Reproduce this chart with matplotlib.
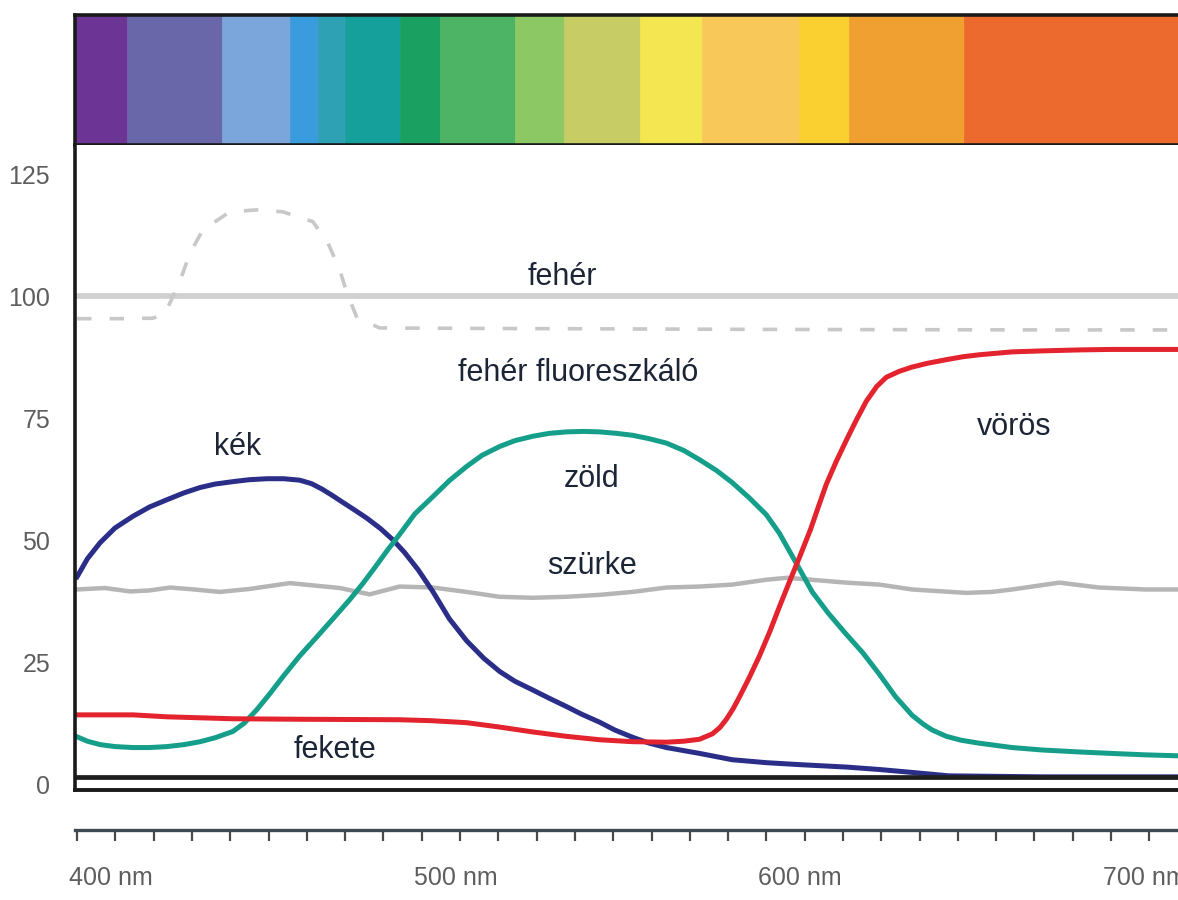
import matplotlib
matplotlib.use('Agg')
import matplotlib.pyplot as plt
import matplotlib.transforms as mtrans
from matplotlib.ticker import FixedLocator, MultipleLocator

# ---------------- data ----------------
# spectrum colour bands (edges in nm)
band_edges = [399.4, 414.5, 442, 461.7, 469.9, 477.7, 493.6, 505.2, 527, 541.4,
              563.2, 581.4, 609.6, 624, 657.4, 720]
band_colors = ['#6c3494', '#6a66aa', '#7aa6dc', '#3a9cdc', '#2ea2b4', '#16a09c',
               '#1aa060', '#4cb464', '#8cc864', '#c8cc64', '#f4e650', '#f8c858',
               '#fad030', '#f0a030', '#ec6a2e']

# fehér (white)
white_wl = [399.4, 720]
white_val = [100.2, 100.2]

# fehér fluoreszkáló (white fluorescent, dashed)
fluor_wl = [400, 412, 422, 425.5, 430, 432.8, 436.5, 444.3, 452, 459.7, 468.4,
            472.8, 476.2, 478.3, 481.2, 487.8, 520, 600, 680, 720]
fluor_val = [95.5, 95.5, 95.6, 96.5, 103.5, 109, 113.7, 117.4, 117.8, 117.4, 115.4,
             111, 105.5, 100.8, 95.7, 93.6, 93.5, 93.3, 93.2, 93.2]

# szürke (grey)
grey_wl = [400, 408, 415.4, 421, 427, 434, 441.4, 450, 461.7, 469, 476.2, 484.9,
           493.6, 503.2, 513, 522.6, 532.2, 542, 551.6, 561.2, 571, 580.6, 590.1,
           600, 606, 623.2, 632.8, 642.3, 658, 665.5, 671.3, 685, 696.5, 710, 720]
grey_val = [40.0, 40.3, 39.6, 39.8, 40.4, 40.0, 39.5, 40.1, 41.3, 40.8, 40.3, 39.0,
            40.6, 40.4, 39.5, 38.5, 38.3, 38.5, 38.9, 39.5, 40.4, 40.6, 41.0,
            42.0, 42.4, 41.4, 41.0, 40.0, 39.3, 39.5, 40.0, 41.4, 40.4, 40.0, 40.0]

# kék (blue)
blue_wl = [400, 403, 406.7, 411, 416.2, 421, 426.1, 431, 435.7, 440, 445.2, 450,
           455.1, 460, 464.6, 468, 471, 474, 477, 480.5, 484.1, 488, 491.6, 495,
           499, 503.2, 508, 513, 518, 522.6, 527, 532.2, 537, 542, 546.5, 551.6,
           556, 561.2, 566, 571, 580.6, 590.1, 600, 609.6, 623.2, 632.8, 642.3,
           653, 680, 720]
blue_val = [42.6, 46.3, 49.6, 52.6, 55.0, 56.9, 58.4, 59.8, 60.9, 61.6, 62.1, 62.5,
            62.7, 62.7, 62.4, 61.7, 60.6, 59.3, 57.9, 56.3, 54.6, 52.5, 50.2, 47.6,
            44.0, 39.6, 34.0, 29.5, 25.9, 23.2, 21.2, 19.4, 17.7, 16.0, 14.4, 12.8,
            11.2, 9.7, 8.5, 7.6, 6.4, 5.1, 4.5, 4.1, 3.6, 3.1, 2.5,
            1.8, 1.6, 1.6]

# zöld (green)
green_wl = [400, 403, 406.7, 411, 416.2, 421, 426.1, 431, 435.7, 440, 445.2, 448.5,
            452.2, 456, 459.7, 464.5, 469.6, 474.5, 479.1, 483, 486.5, 490,
            493.6, 498, 503.2, 508, 513, 517.5, 522.6, 527, 532.2, 537, 542, 547,
            551.6, 556.5, 561.2, 566, 571, 576, 580.6, 585.5, 590.1, 595, 600,
            603.8, 609.6, 613.3, 618, 623.2, 628, 632.8, 637.5, 642.3, 645.5,
            648.1, 652.2, 656.5, 661.7, 671.3, 680, 690.7, 700, 710.1, 720]
green_val = [9.8, 8.9, 8.2, 7.8, 7.6, 7.6, 7.8, 8.2, 8.8, 9.6, 10.9, 12.6,
             15.4, 18.7, 22.1, 26.3, 30.3, 34.2, 37.9, 41.3, 44.6, 48.0,
             51.3, 55.5, 59.0, 62.3, 65.2, 67.5, 69.3, 70.5, 71.4, 72.0, 72.3, 72.4,
             72.3, 72.0, 71.6, 70.9, 70.0, 68.5, 66.6, 64.4, 61.9, 58.8, 55.3,
             51.5, 44.2, 39.5, 35.1, 30.8, 27.0, 22.6, 18.0, 14.2, 12.4,
             11.2, 9.9, 9.1, 8.5, 7.6, 7.1, 6.7, 6.4, 6.1, 5.9]

# vörös (red)
red_wl = [400, 416.2, 426.1, 445.2, 464.6, 493.6, 503, 513, 522.6, 532.2, 542,
          551.6, 561.2, 571, 576, 580.6, 584.3, 586.5, 588.4, 590.3, 592.2, 595,
          598, 601, 603.8, 606.7, 609.6, 612.8, 615, 617.4, 620.3, 623.2, 626,
          629, 632, 634.8, 638.5, 642.3, 647, 652.2, 657, 661.7, 666.5, 671.3,
          680, 690.7, 700, 720]
red_val = [14.3, 14.3, 13.9, 13.5, 13.4, 13.3, 13.1, 12.7, 11.8, 10.8, 9.9,
           9.2, 8.8, 8.7, 8.9, 9.3, 10.4, 11.7, 13.4, 15.5, 18.0, 21.9,
           26.4, 31.4, 36.5, 41.6, 46.6, 52.3, 56.8, 61.6, 66.3, 70.6, 74.6,
           78.6, 81.6, 83.5, 84.7, 85.6, 86.4, 87.1, 87.7, 88.1, 88.4, 88.7,
           88.9, 89.1, 89.2, 89.2]

# fekete (black)
black_wl = [399.4, 720]
black_val = [1.6, 1.6]

y_ticks = [0, 25, 50, 75, 100, 125]
x_major = [400, 500, 600, 700]
x_labels = ['400 nm', '500 nm', '600 nm', '700 nm']

labels = [('fehér', 540.9, 104.1), ('fehér fluoreszkáló', 545.5, 84.4),
          ('kék', 446.7, 69.3), ('zöld', 549.3, 62.7), ('vörös', 671.9, 73.2),
          ('szürke', 549.3, 44.9), ('fekete', 474.8, 7.2)]

# ---------------- figure ----------------
W, H = 1178, 900
fig = plt.figure(figsize=(W / 100, H / 100), dpi=100)
fig.patch.set_facecolor('white')

def px_rect(x0, y0, x1, y1):
    return [x0 / W, 1 - y1 / H, (x1 - x0) / W, (y1 - y0) / H]

XLIM = (399.4, 720.0)
sans = ['Liberation Sans', 'DejaVu Sans']

# spectrum bar
axs = fig.add_axes(px_rect(75, 15, 1180, 145))
lefts = band_edges[:-1]
widths = [b - a for a, b in zip(band_edges[:-1], band_edges[1:])]
axs.bar(lefts, [1] * len(lefts), width=widths, align='edge', color=band_colors,
        edgecolor=band_colors, linewidth=0.5)
axs.set_xlim(*XLIM)
axs.set_ylim(0, 1)
axs.set_xticks([])
axs.set_yticks([])
for s in ['top', 'bottom', 'left']:
    axs.spines[s].set_linewidth(2.6)
    axs.spines[s].set_color('#1a1a1a')
axs.spines['right'].set_visible(False)

# main plot
ax = fig.add_axes(px_rect(75, 145, 1180, 790))
ax.set_xlim(*XLIM)
ax.set_ylim(-1.1, 131.1)
ax.plot(white_wl, white_val, color='#cfcfcf', lw=4.0, solid_capstyle='butt')
ax.plot(fluor_wl, fluor_val, color='#c8c8c8', lw=2.6, dashes=(4, 5))
ax.plot(grey_wl, grey_val, color='#b5b5b5', lw=3.2, solid_joinstyle='round')
ax.plot(blue_wl, blue_val, color='#2b2e88', lw=3.6, solid_joinstyle='round')
ax.plot(green_wl, green_val, color='#159f8a', lw=3.6, solid_joinstyle='round')
ax.plot(red_wl, red_val, color='#e3232d', lw=3.6, solid_joinstyle='round')
ax.plot(black_wl, black_val, color='#1e1e1e', lw=3.4, solid_capstyle='butt')

for txt, xv, yv in labels:
    ax.text(xv, yv, txt, ha='center', va='center', fontsize=22,
            family=sans, color='#1c2535')

ax.set_xticks([])
ax.yaxis.set_major_locator(FixedLocator(y_ticks))
ax.set_yticklabels([str(v) for v in y_ticks], family=sans, fontsize=18,
                   color='#5e5e5e')
ax.tick_params(axis='y', length=0, pad=18)
ax.spines['top'].set_visible(False)
ax.spines['right'].set_visible(False)
ax.spines['left'].set_linewidth(2.6)
ax.spines['left'].set_color('#1a1a1a')
ax.spines['bottom'].set_linewidth(2.8)
ax.spines['bottom'].set_color('#1a1a1a')

# ruler axis
axr = fig.add_axes(px_rect(75, 820, 1180, 830))
axr.set_xlim(*XLIM)
axr.set_yticks([])
for s in ['top', 'right', 'left']:
    axr.spines[s].set_visible(False)
axr.spines['bottom'].set_linewidth(2.4)
axr.spines['bottom'].set_color('#3c4a55')
axr.xaxis.set_major_locator(FixedLocator(x_major))
axr.xaxis.set_minor_locator(MultipleLocator(100 / 9))
axr.set_xticklabels(x_labels, family=sans, fontsize=18, color='#5e5e5e', ha='left')
axr.tick_params(axis='x', which='both', direction='out', length=8, width=1.6,
                color='#4a4a4a', pad=18)
offset = mtrans.ScaledTranslation(-8 / 100, 0, fig.dpi_scale_trans)
for lab in axr.get_xticklabels():
    lab.set_transform(lab.get_transform() + offset)

fig.savefig('out.png', dpi=100, facecolor='white')
